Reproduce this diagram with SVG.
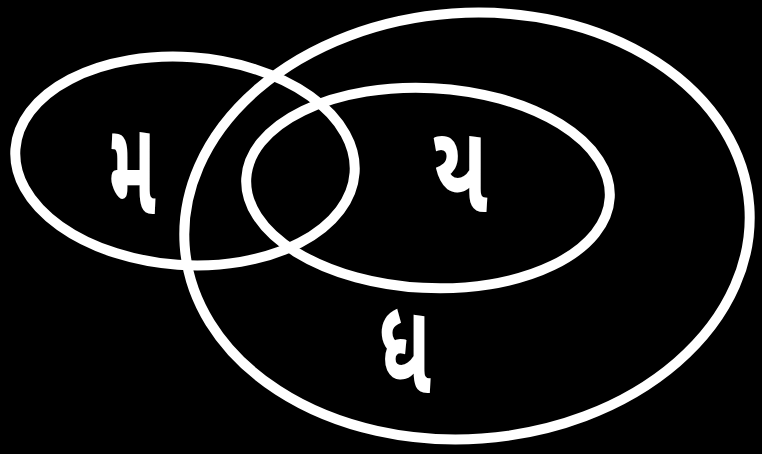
<svg xmlns="http://www.w3.org/2000/svg" width="762" height="454" viewBox="0 0 762 454">
<style>
.ring{fill:none;stroke:#ffffff;stroke-width:10;stroke-linecap:round}
.lbl{fill:#ffffff;font-family:"Noto Sans Gujarati","Noto Sans Devanagari","Noto Sans","DejaVu Sans",sans-serif;font-weight:bold;text-anchor:middle}
</style>
<rect width="762" height="454" fill="#000000"/>
<g id="set-outer">
<ellipse class="ring" cx="467" cy="226" rx="283" ry="213" transform="rotate(-4 467 226)"/>
<text class="lbl" font-size="100" transform="translate(405 393) scale(0.8 1.3)">ધ</text>
</g>
<g id="set-inner">
<ellipse class="ring" cx="428" cy="188" rx="182" ry="100" transform="rotate(3 428 188)"/>
<text class="lbl" font-size="100" transform="translate(460 212) scale(0.85 1.25)">ય</text>
</g>
<g id="set-left">
<ellipse class="ring" cx="185" cy="161" rx="170" ry="104" transform="rotate(4 185 161)"/>
<text class="lbl" font-size="100" transform="translate(132 214) scale(0.75 1.35)">મ</text>
</g>
<g id="connectors"></g>
</svg>
